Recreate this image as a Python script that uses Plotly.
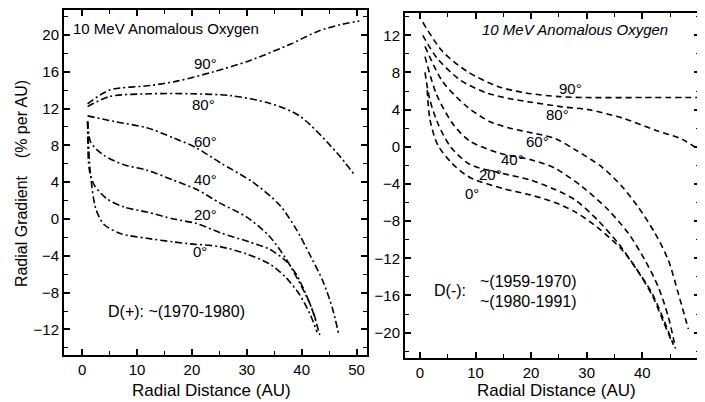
import plotly.graph_objects as go

# The page body has an 8px default margin, so the figure is drawn 8px smaller
# and all reference pixel positions are shifted by that offset.
OFF = 8
W, H = 705 - OFF, 402 - OFF

# ---------------- Left panel: D(+) ~ (1970-1980), dash-dot ----------------
angles = ["90°", "80°", "60°", "40°", "20°", "0°"]

L90_x = [1, 5, 12.5, 17.5, 24, 30.5, 38, 43, 47, 50.5]
L90_y = [12.5, 14.0, 14.5, 15.0, 16.0, 17.2, 19.0, 20.4, 21.1, 21.5]
L80_x = [1, 5, 12.5, 20, 27, 34, 39.6, 46.4, 49.6]
L80_y = [12.2, 13.3, 13.6, 13.6, 13.4, 12.6, 11.2, 7.2, 4.8]
L60_x = [1, 5.8, 11.8, 16.7, 20.9, 25.2, 31.1, 36, 39, 41.5, 43.9, 45.6, 46.7]
L60_y = [11.2, 10.6, 9.9, 8.8, 7.7, 6.1, 4.0, 1.5, -1.1, -3.9, -6.8, -9.7, -12.4]
L40_x = [1, 1.6, 4, 7.6, 11.8, 16.7, 20.9, 25.2, 30, 34, 37, 39.5, 41.5, 42.6]
L40_y = [10.6, 8.3, 6.9, 5.9, 5.3, 4.2, 3.2, 1.7, 0.2, -1.8, -4.2, -6.8, -9.2, -11.0]
L20_x = [1, 1.3, 2.2, 4.5, 7.6, 11.8, 16.7, 20.9, 25.2, 30.5, 34.2, 37.2, 39, 40.5, 42, 43.3]
L20_y = [10.6, 5.4, 3.7, 2.2, 1.3, 0.75, 0, -0.5, -1.5, -2.5, -3.3, -4.6, -6.0, -7.8, -10, -12.6]
L0_x = [1, 1.5, 2.5, 4, 7.1, 11.8, 16.7, 19.6, 25.1, 30, 34.2, 37.2, 39.6, 41.5, 42.8]
L0_y = [10.6, 5.0, 1.1, -0.6, -1.6, -2.1, -2.5, -2.7, -3.0, -3.8, -4.9, -6.4, -8.2, -10.3, -12.3]

# ---------------- Right panel: D(-), dashed ----------------
R90_x = [0.5, 4, 8.5, 14, 19, 25, 30, 40, 50.4]
R90_y = [13.4, 10.3, 8.1, 6.5, 5.8, 5.4, 5.3, 5.3, 5.3]
R80_x = [0.5, 3, 7.2, 12, 16, 20, 25.6, 30.3, 36.4, 42.3, 47.2, 50.2]
R80_y = [12.0, 9.6, 7.2, 5.8, 5.2, 4.8, 4.3, 4.0, 3.1, 1.8, 0.8, -0.3]
R60_x = [0.9, 4.1, 8.5, 12.6, 16.2, 20.2, 24.3, 27.9, 32.8, 36.4, 39.3, 42.3, 44.7, 46.5, 48.3]
R60_y = [10.8, 7.0, 4.3, 2.7, 2.0, 1.5, 0.9, -0.3, -2.2, -4.3, -6.5, -9.3, -12.2, -15.8, -19.6]
R40_x = [0.9, 3, 6, 9, 14.4, 20, 24.3, 29.2, 33.9, 37.5, 40.5, 42.9, 44.7, 46]
R40_y = [9.7, 5.6, 2.4, 0.6, -0.7, -1.4, -2.3, -4.3, -6.8, -9.3, -12.2, -15.1, -18.3, -21.7]
R20_x = [0.9, 1.8, 3.3, 5.5, 9, 14.4, 20, 24.3, 27.9, 32, 35.7, 38.7, 41.8, 44, 45.6]
R20_y = [8.0, 5.0, 2.4, 0.0, -1.9, -2.8, -3.6, -4.6, -5.7, -7.9, -10.4, -12.9, -15.8, -18.8, -21.3]
R0_x = [1.3, 1.8, 3.2, 5.8, 9, 15, 20, 24.3, 27.9, 32, 36.4, 39, 41.8, 43.8, 45.2]
R0_y = [6.1, 2.9, 0.2, -1.8, -3.3, -4.5, -5.2, -6.0, -7.0, -8.7, -11.1, -13.2, -16.0, -18.8, -20.8]

left_series = [(L90_x, L90_y), (L80_x, L80_y), (L60_x, L60_y), (L40_x, L40_y), (L20_x, L20_y), (L0_x, L0_y)]
right_series = [(R90_x, R90_y), (R80_x, R80_y), (R60_x, R60_y), (R40_x, R40_y), (R20_x, R20_y), (R0_x, R0_y)]

x_ticks = [0, 10, 20, 30, 40, 50]
left_y_ticks = [-12, -8, -4, 0, 4, 8, 12, 16, 20]
right_y_ticks = [-20, -16, -12, -8, -4, 0, 4, 8, 12]

FONT = "Liberation Sans"

fig = go.Figure()
for name, (xs, ys) in zip(angles, left_series):
    fig.add_trace(go.Scatter(x=xs, y=ys, mode="lines", name=name, xaxis="x", yaxis="y",
                             line=dict(color="black", width=1.6, dash="7px,3px,2px,3px",
                                       shape="spline", smoothing=0.8),
                             showlegend=False, hoverinfo="skip"))
for name, (xs, ys) in zip(angles, right_series):
    fig.add_trace(go.Scatter(x=xs, y=ys, mode="lines", name=name, xaxis="x2", yaxis="y2",
                             line=dict(color="black", width=1.6, dash="6px,4px",
                                       shape="spline", smoothing=0.8),
                             showlegend=False, hoverinfo="skip"))


def px2paper(px, py):
    return (px - OFF) / W, 1 - (py - OFF) / H


axis_common = dict(showline=True, linewidth=2, linecolor="black", mirror="ticks",
                   ticks="inside", ticklen=6, tickwidth=1.5, tickcolor="black",
                   showgrid=False, zeroline=False,
                   tickfont=dict(family=FONT, size=15, color="black"))

lx0, _ = px2paper(64, 0)
lx1, _ = px2paper(367, 0)
_, ly1 = px2paper(0, 6)
_, ly0 = px2paper(0, 355)
rx0, _ = px2paper(405, 0)
rx1, _ = px2paper(700, 0)
_, ry1 = px2paper(0, 11)
_, ry0 = px2paper(0, 358)
ly1 = min(ly1, 1.0)

fig.update_layout(
    width=W, height=H,
    margin=dict(l=0, r=0, t=0, b=0),
    paper_bgcolor="white", plot_bgcolor="white",
    xaxis=dict(domain=[lx0, lx1], range=[-3.3, 51.9], tickvals=x_ticks, anchor="y",
               minor=dict(dtick=5, ticklen=4, tickwidth=1.2, ticks="inside", tickcolor="black"),
               **axis_common),
    yaxis=dict(domain=[ly0, ly1], range=[-14.8, 22.7], tickvals=left_y_ticks, anchor="x",
               minor=dict(dtick=2, ticklen=4, tickwidth=1.2, ticks="inside", tickcolor="black"),
               **axis_common),
    xaxis2=dict(domain=[rx0, rx1], range=[-2.7, 50.4], tickvals=x_ticks, anchor="y2",
                minor=dict(dtick=5, ticklen=4, tickwidth=1.2, ticks="inside", tickcolor="black"),
                **axis_common),
    yaxis2=dict(domain=[ry0, ry1], range=[-22.75, 14.4], tickvals=right_y_ticks, anchor="x2",
                minor=dict(dtick=2, ticklen=4, tickwidth=1.2, ticks="inside", tickcolor="black"),
                **axis_common),
)

annots = []


def add_text(px, py, text, size=14, xanchor="center", angle=0):
    x, y = px2paper(px, py)
    annots.append(dict(x=x, y=y, xref="paper", yref="paper", text=text, showarrow=False,
                       xanchor=xanchor, yanchor="middle", textangle=angle,
                       font=dict(family=FONT, size=size, color="black")))


# titles and notes
add_text(166, 27, "10 MeV Anomalous Oxygen", 15)
add_text(575, 28, "<i>10 MeV Anomalous Oxygen</i>", 15)
add_text(176, 311, "D(+): ~(1970-1980)", 16)
add_text(432, 290, "D(-):", 16, xanchor="left")
add_text(478, 281, "~(1959-1970)", 16, xanchor="left")
add_text(478, 301, "~(1980-1991)", 16, xanchor="left")
add_text(211, 390, "Radial Distance (AU)", 17)
add_text(556, 390, "Radial Distance (AU)", 17)
add_text(21, 183, "Radial Gradient    (% per AU)", 16, angle=-90)

# curve labels (pixel positions of the reference labels)
left_label_px = [(205, 62), (203, 103), (205, 140), (205, 178), (205, 214), (200, 251)]
right_label_px = [(570, 87), (557, 113), (537, 140), (512, 158), (490, 173), (472, 192)]
for name, (px, py) in zip(angles, left_label_px):
    add_text(px, py, name, 15)
for name, (px, py) in zip(angles, right_label_px):
    add_text(px, py, name, 15)

fig.update_layout(annotations=annots)
fig.write_html("out.html")
